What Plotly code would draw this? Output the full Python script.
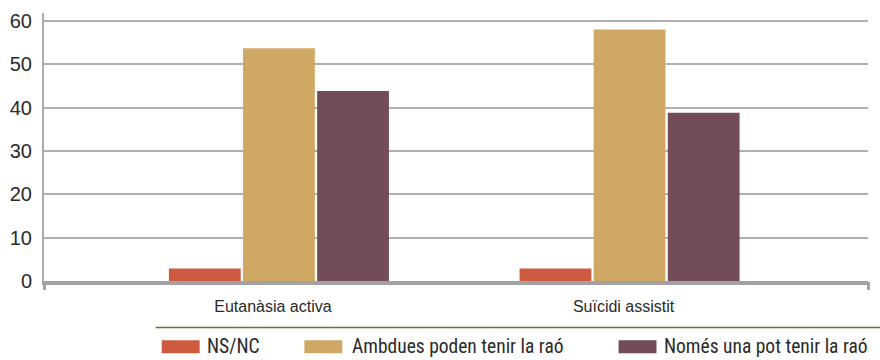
import plotly.graph_objects as go

# Survey results (%), two questions, three answer groups
categories = ["Eutanàsia activa", "Suïcidi assistit"]
series_names = ["NS/NC", "Ambdues poden tenir la raó", "Només una pot tenir la raó"]
ns_nc = [2.9, 2.9]
ambdues = [53.7, 58.0]
nomes_una = [43.8, 38.8]
y_ticks = [0, 10, 20, 30, 40, 50, 60]

colors = ["#CC5B40", "#CFA964", "#724D58"]
values = [ns_nc, ambdues, nomes_una]

fig = go.Figure()
for name, vals, col in zip(series_names, values, colors):
    fig.add_trace(go.Bar(x=categories, y=vals, name=name, marker_color=col,
                         marker_line_width=0, showlegend=False))

GRID = "#B0B0B0"
AXIS = "#A2A2A2"

fig.update_layout(
    width=880, height=360,
    margin=dict(l=42, r=12, t=10, b=79),
    paper_bgcolor="white", plot_bgcolor="white",
    barmode="group", bargap=0.366, bargroupgap=0.031,
    font=dict(family="Liberation Sans, Arial, sans-serif", color="#2a2a2a"),
    xaxis=dict(
        type="category", range=[-0.67, 1.68],
        showgrid=False, zeroline=False,
        showline=True, linecolor=AXIS, linewidth=4,
        ticks="", tickfont=dict(size=16, color="#2a2a2a"),
        ticklabelstandoff=8, ticklabelshift=-6,
    ),
    # end ticks of the category axis
    xaxis2=dict(
        overlaying="x", anchor="y", side="bottom", range=[0, 1],
        tickvals=[0, 1], ticks="outside", ticklen=8, tickwidth=3,
        tickcolor=AXIS, showticklabels=False, showgrid=False,
        zeroline=False, showline=False,
    ),
    yaxis=dict(
        range=[0, 61.8], tickvals=y_ticks,
        showgrid=True, gridcolor=GRID, gridwidth=2,
        zeroline=False, showline=True, linecolor="#ABABAB", linewidth=2,
        ticks="", tickfont=dict(size=20, color="#2a2a2a"),
        ticklabelstandoff=6,
    ),
)

# invisible helper so xaxis2 is rendered
fig.add_trace(go.Scatter(x=[0, 1], y=[None, None], xaxis="x2", yaxis="y",
                         mode="markers", showlegend=False, hoverinfo="skip"))

# legend: rule above, coloured swatches and names
fig.add_shape(type="line", xref="paper", yref="paper",
              x0=0.1356, x1=1.0145, y0=-0.1734, y1=-0.1734,
              line=dict(color="#557A22", width=1.5))

sw_x0 = [0.1429, 0.3160, 0.6973]
txt_x = [0.1961, 0.3729, 0.7518]
for name, col, sx, tx in zip(series_names, colors, sw_x0, txt_x):
    fig.add_shape(type="rect", xref="paper", yref="paper",
                  x0=sx, x1=sx + 0.046, y0=-0.2694, y1=-0.2214,
                  fillcolor=col, line_width=0)
    fig.add_annotation(text=name, xref="paper", yref="paper",
                       x=tx, y=-0.2435, xanchor="left", yanchor="middle",
                       showarrow=False, borderpad=0,
                       font=dict(family="Liberation Sans Narrow, Arial Narrow, Roboto Condensed, sans-serif",
                                 size=19.5, color="#2a2a2a"))

fig.write_html("out.html")
